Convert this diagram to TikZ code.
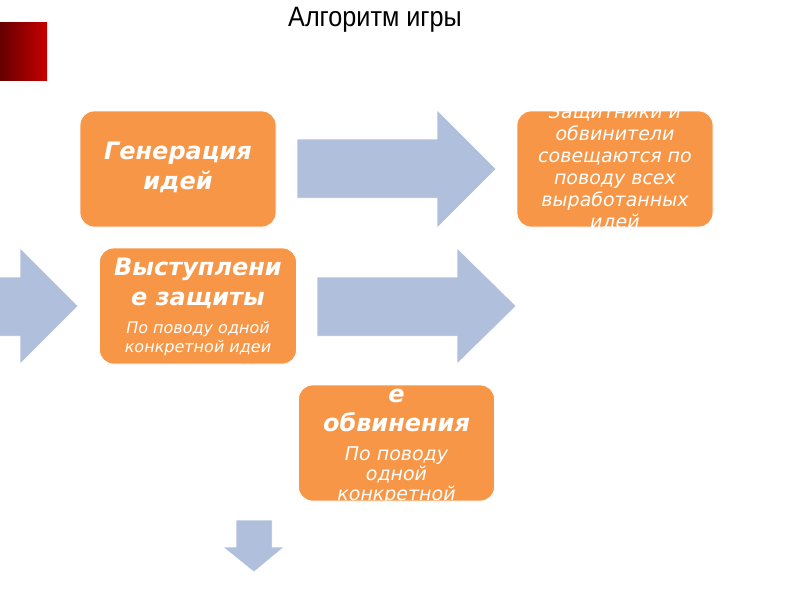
\documentclass[tikz,border=0pt]{standalone}
\usepackage{fontspec}
\setmainfont{DejaVu Sans}
\newfontfamily\titlefont[FakeStretch=0.9]{Liberation Sans}
\definecolor{boxor}{RGB}{247,150,70}
\definecolor{arrblue}{RGB}{176,192,220}
\definecolor{dred}{RGB}{100,0,0}
\definecolor{bred}{RGB}{200,0,0}
\tikzset{
  box/.style={fill=boxor, draw=white, line width=0.8pt, rounded corners=14pt, inner sep=0pt},
  arr/.style={fill=arrblue, draw=white, line width=0.5pt},
  big/.style={text=white, align=center, inner sep=0pt, font=\fontsize{24}{30}\selectfont\bfseries\itshape},
  small/.style={text=white, align=center, inner sep=0pt}
}
\begin{document}
\begin{tikzpicture}[x=1pt,y=-1pt]
\useasboundingbox (0,0) rectangle (800,600);
\node[font=\titlefont\fontsize{28}{32}\selectfont, inner sep=0pt] (title) at (375,20) {Алгоритм игры};
\shade[left color=dred, right color=bred] (0,22) rectangle (47,80);
% block arrows
\filldraw[arr] (297,139) -- (437,139) -- (437,110) -- (496,169) -- (437,228) -- (437,198) -- (297,198) -- cycle;
\filldraw[arr] (317,277) -- (457,277) -- (457,248) -- (516,306) -- (457,364) -- (457,336) -- (317,336) -- cycle;
\filldraw[arr] (-2,277) -- (20,277) -- (20,248) -- (78,306) -- (20,364) -- (20,336) -- (-2,336) -- cycle;
\filldraw[arr] (236,520) -- (272,520) -- (272,547) -- (284,547) -- (254,572) -- (223,547) -- (236,547) -- cycle;
% boxes
\node[box, minimum width=196pt, minimum height=116pt] (b1) at (178,169) {};
\node[box, minimum width=196pt, minimum height=116pt] (b2) at (615,169) {};
\node[box, minimum width=197pt, minimum height=116pt] (b3) at (198,306) {};
\node[box, minimum width=196pt, minimum height=116pt] (b4) at (396.5,443) {};
% texts
\begin{scope}
\clip[rounded corners=14pt] (b1.south west) rectangle (b1.north east);
\node[big] (t1) at (178,167) {Генерация\\идей};
\end{scope}
\begin{scope}
\clip[rounded corners=14pt] (b2.south west) rectangle (b2.north east);
\node[small, font=\fontsize{19}{22}\selectfont\itshape] (t2) at (615,168) {Защитники и\\обвинители\\совещаются по\\поводу всех\\выработанных\\идей};
\end{scope}
\begin{scope}
\clip[rounded corners=14pt] (b3.south west) rectangle (b3.north east);
\node[big] (t3) at (198,283) {Выступлени\\е защиты};
\node[small, font=\fontsize{16}{19}\selectfont\itshape] (t3s) at (198,338.5) {По поводу одной\\конкретной идеи};
\end{scope}
\begin{scope}
\clip[rounded corners=14pt] (b4.south west) rectangle (b4.north east);
\node[big, font=\fontsize{24}{28.5}\selectfont\bfseries\itshape] (t4) at (396.5,394) {Выступлени\\е\\обвинения};
\node[small, font=\fontsize{19}{20}\selectfont\itshape] (t4s) at (396.5,485) {По поводу\\одной\\конкретной\\идеи};
\end{scope}
\end{tikzpicture}
\end{document}
